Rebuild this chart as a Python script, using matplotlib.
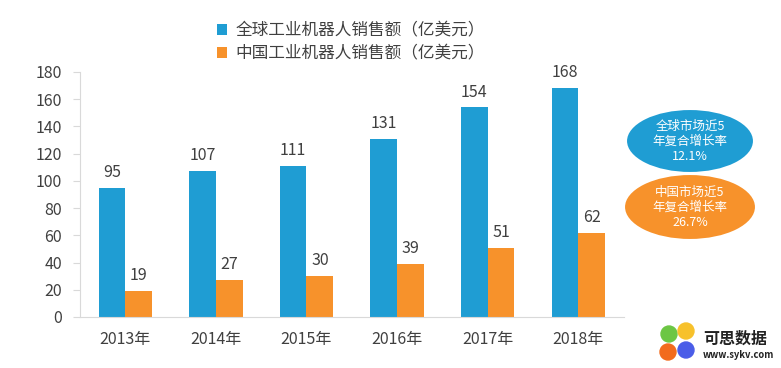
import matplotlib.pyplot as plt
from matplotlib.patches import Ellipse
import numpy as np

plt.rcParams['font.family'] = ['Noto Sans CJK SC', 'DejaVu Sans']

years = ['2013年', '2014年', '2015年', '2016年', '2017年', '2018年']
global_sales = [95, 107, 111, 131, 154, 168]
china_sales = [19, 27, 30, 39, 51, 62]
legend_labels = ['全球工业机器人销售额（亿美元）', '中国工业机器人销售额（亿美元）']

blue = '#1f9dd3'
orange = '#f7922b'
txt = '#404040'

fig = plt.figure(figsize=(7.81, 3.68), dpi=100)
ax = fig.add_axes([0.1024, 0.1386, 0.696, 0.666])

x = np.arange(len(years))
w = 0.295
b1 = ax.bar(x - w / 2, global_sales, w, color=blue, label=legend_labels[0])
b2 = ax.bar(x + w / 2, china_sales, w, color=orange, label=legend_labels[1])

for rect, v in zip(b1, global_sales):
    ax.text(rect.get_x() + rect.get_width() / 2, v + 5, str(v),
            ha='center', va='bottom', fontsize=11.5, color=txt, fontweight='light')
for rect, v in zip(b2, china_sales):
    ax.text(rect.get_x() + rect.get_width() / 2, v + 5, str(v),
            ha='center', va='bottom', fontsize=11.5, color=txt, fontweight='light')

ax.set_xlim(-0.5, 5.5)
ax.set_ylim(0, 180)
ax.set_yticks(range(0, 181, 20))
ax.set_xticks(x)
ax.set_xticklabels(years)
for s in ['top', 'right']:
    ax.spines[s].set_visible(False)
ax.spines['left'].set_color('#d9d9d9')
ax.spines['bottom'].set_color('#d9d9d9')
ax.tick_params(axis='y', colors='#d9d9d9', labelcolor=txt, labelsize=11.5, length=5, pad=8)
ax.tick_params(axis='x', length=0, labelcolor=txt, labelsize=11.5, pad=10)

ax.legend(loc='lower left', bbox_to_anchor=(0.24, 1.012), frameon=False,
          fontsize=12, handlelength=0.6, handleheight=0.6, handletextpad=0.5,
          labelspacing=0.35, borderaxespad=0, labelcolor=txt)

# growth-rate ellipses
e1 = Ellipse((690 / 781, 1 - 141 / 368), 128 / 781, 64 / 368, transform=fig.transFigure,
             facecolor=blue, edgecolor='white', lw=1.5)
e2 = Ellipse((690 / 781, 1 - 207 / 368), 132 / 781, 66 / 368, transform=fig.transFigure,
             facecolor=orange, edgecolor='white', lw=1.5)
fig.add_artist(e1)
fig.add_artist(e2)
fig.text(690 / 781, 1 - 141 / 368, '全球市场近5\n年复合增长率\n12.1%', ha='center', va='center',
         color='white', fontsize=9, linespacing=1.2, fontweight='light')
fig.text(690 / 781, 1 - 207 / 368, '中国市场近5\n年复合增长率\n26.7%', ha='center', va='center',
         color='white', fontsize=9, linespacing=1.2, fontweight='light')

# watermark logo
for cx, cy, c in [(669, 334, '#6cc644'), (686, 331, '#f7c12b'), (668, 352, '#f26b1d'), (686, 350, '#4a5de8')]:
    fig.add_artist(Ellipse((cx / 781, 1 - cy / 368), 16 / 781, 16 / 368,
                           transform=fig.transFigure, color=c))
fig.text(703 / 781, 1 - 339 / 368, '可思数据', fontsize=11.5, fontweight='bold',
         color='#222222', va='center')
fig.text(703 / 781, 1 - 355 / 368, 'www.sykv.com', fontsize=6.8, fontweight='bold',
         color='#222222', va='center')

fig.savefig('out.png', dpi=100, facecolor='white')
